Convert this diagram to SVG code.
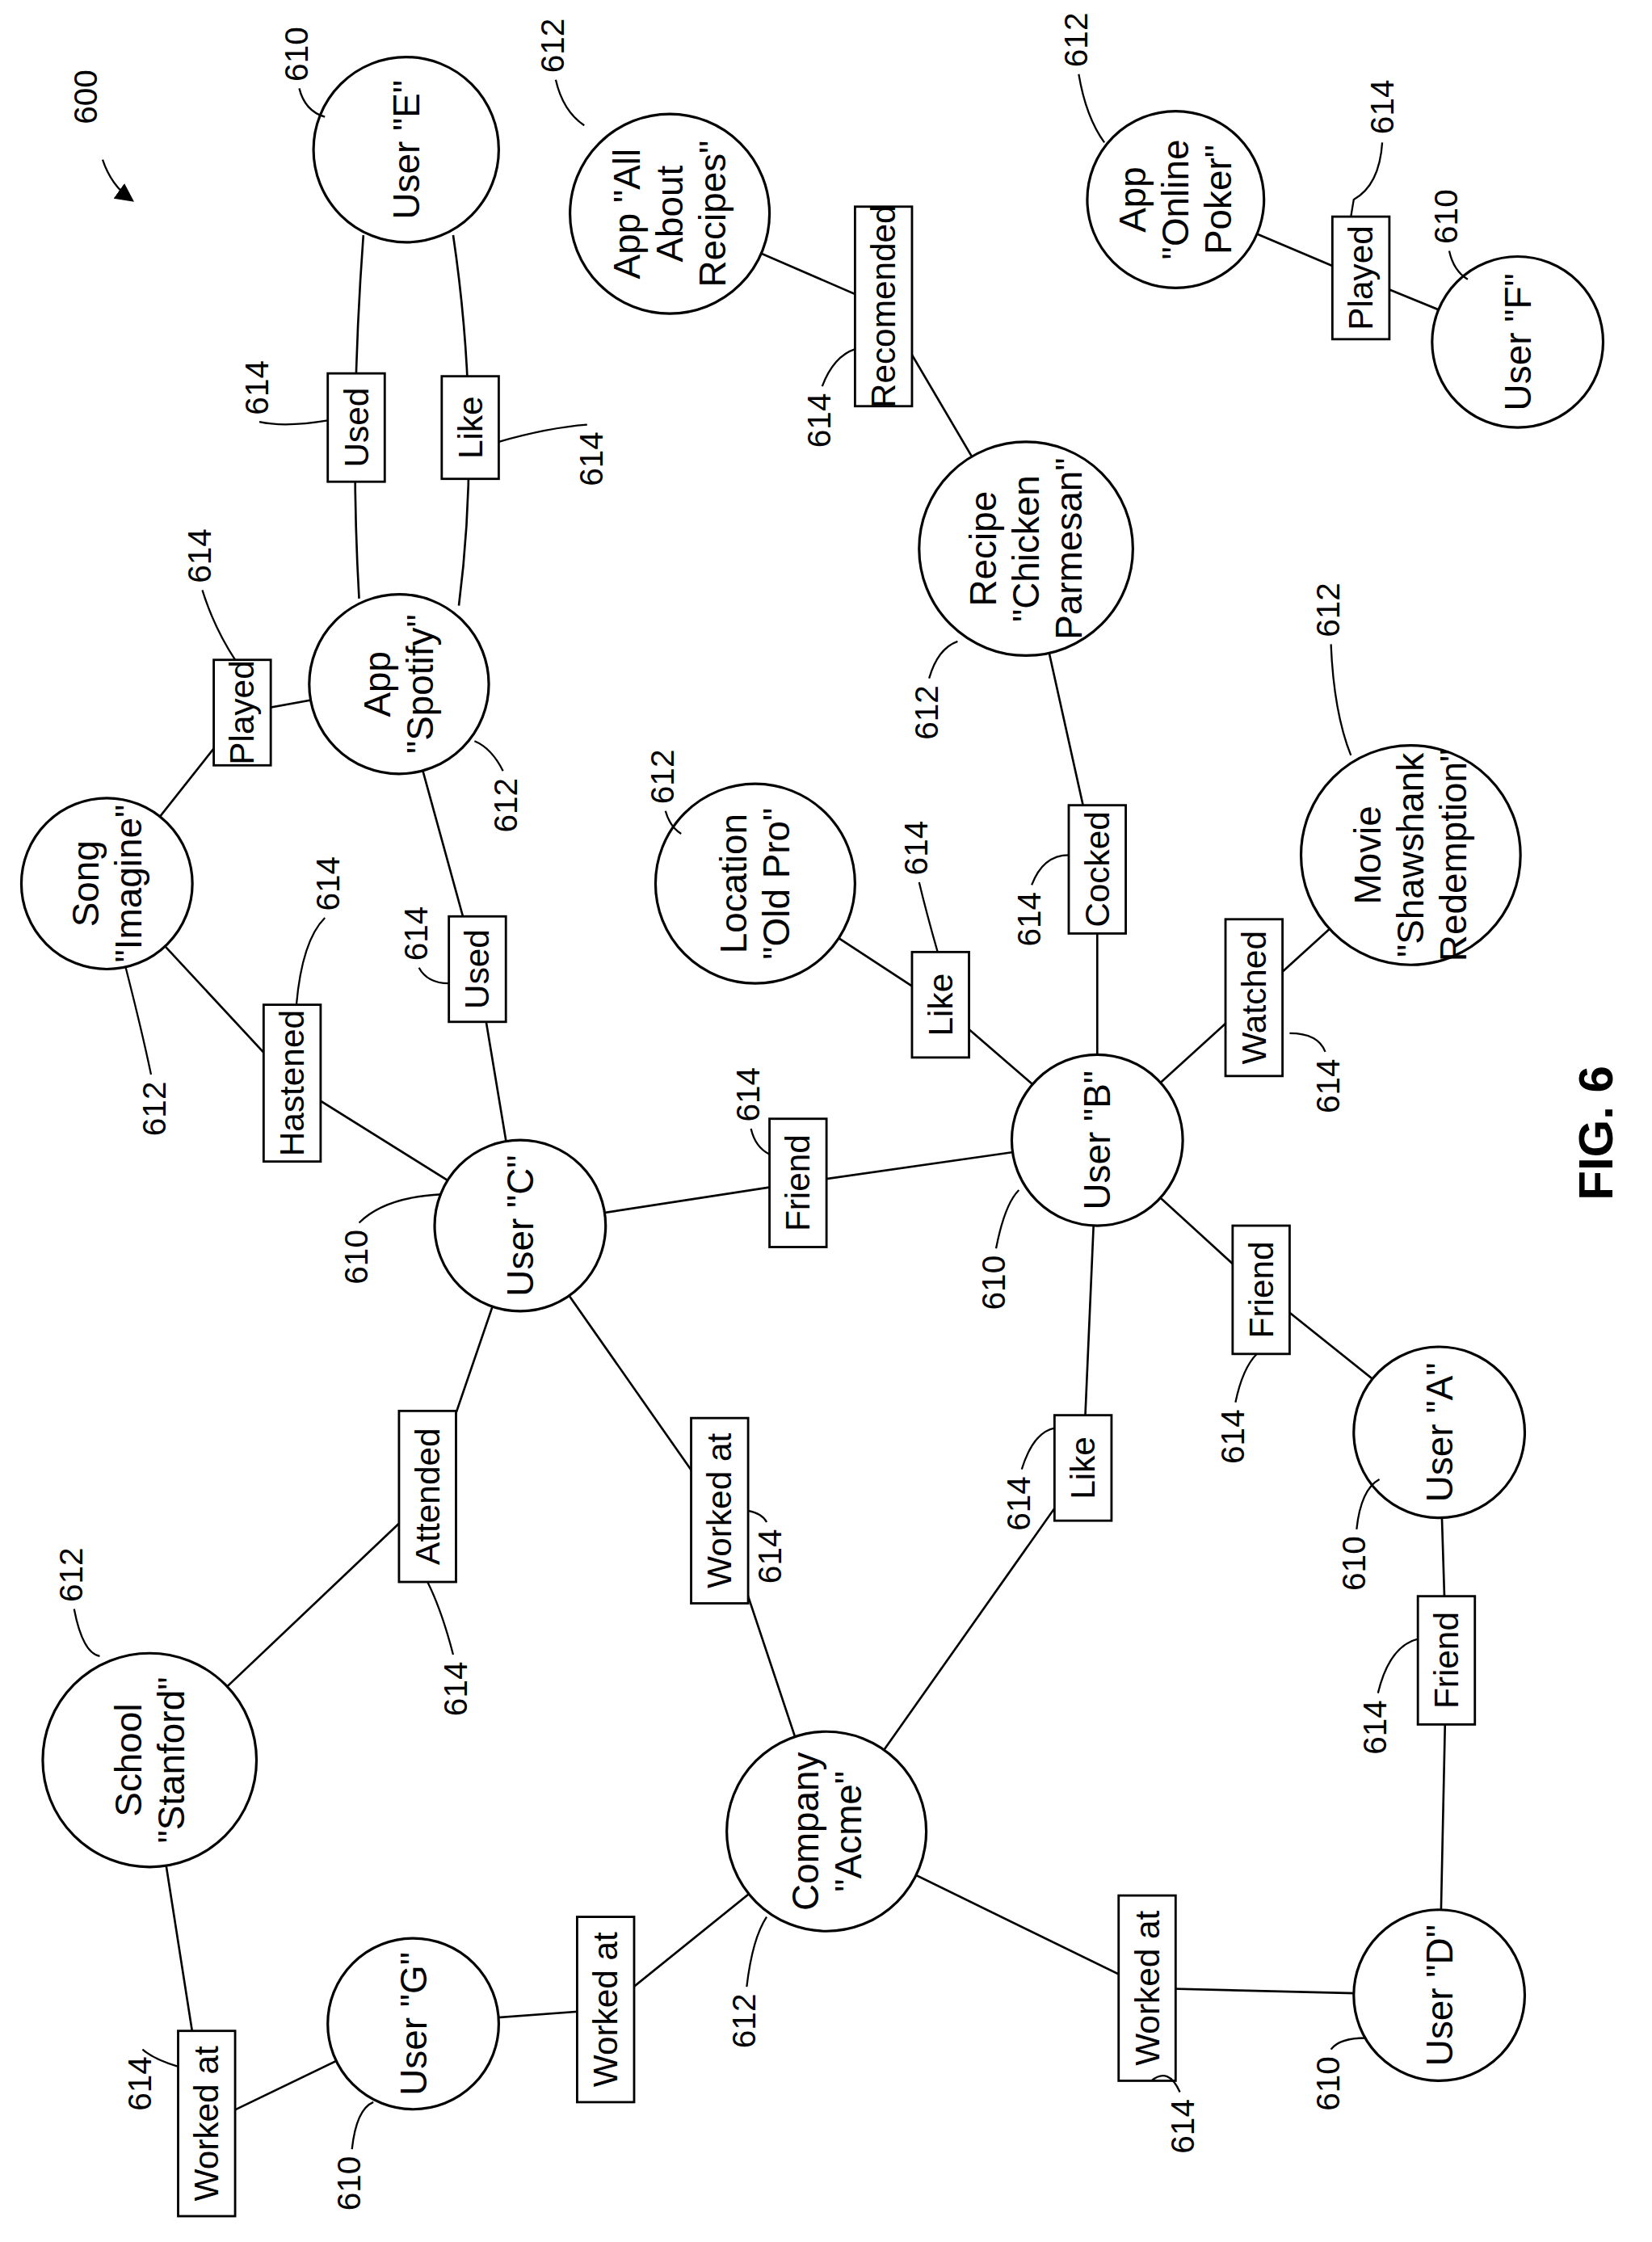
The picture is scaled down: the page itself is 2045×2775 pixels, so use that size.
<svg xmlns="http://www.w3.org/2000/svg" width="2045" height="2775" viewBox="0 0 2045 2775">
<style>
.n{fill:#fff;stroke:#000;stroke-width:1.8}
.e{fill:none;stroke:#000;stroke-width:1.5}
.b{fill:#fff;stroke:#000;stroke-width:1.6}
.l{fill:none;stroke:#000;stroke-width:1.3}
text{font-family:"Liberation Sans",Arial,sans-serif;text-anchor:middle;dominant-baseline:central;fill:#000}
.t{font-size:26px}
.lb{font-size:24px}
.c{font-size:23px}
</style>
<defs><marker id="ar" markerWidth="10" markerHeight="10" refX="8" refY="5" orient="auto"><path d="M0,0 L10,5 L0,10 z"/></marker></defs>
<rect width="2045" height="2775" fill="#fff"/>
<g transform="scale(1.764)">
<g id="connectors">
<path class="e" d="M255,165 Q245,300 252,420"/>
<path class="e" d="M318,165 Q338,300 322,425"/>
<polyline class="e" points="280,480 170,500 75,620"/>
<polyline class="e" points="75,620 205,760 365,860"/>
<polyline class="e" points="280,480 335,680 365,860"/>
<polyline class="e" points="470,150 620,215 720,385"/>
<polyline class="e" points="825,140 955,195 1065,240"/>
<polyline class="e" points="720,385 770,610 770,800"/>
<polyline class="e" points="530,620 660,705 770,800"/>
<polyline class="e" points="990,600 880,700 770,800"/>
<polyline class="e" points="365,860 560,830 770,800"/>
<polyline class="e" points="770,800 885,905 1010,1005"/>
<polyline class="e" points="1010,1005 1015,1165 1010,1400"/>
<polyline class="e" points="580,1285 760,1030 770,800"/>
<polyline class="e" points="365,860 505,1060 580,1285"/>
<polyline class="e" points="105,1235 300,1050 365,860"/>
<polyline class="e" points="580,1285 805,1395 1010,1400"/>
<polyline class="e" points="290,1420 425,1410 580,1285"/>
<polyline class="e" points="105,1235 145,1490 290,1420"/>
</g>
<g id="labels">
<g><rect class="b" x="230" y="262" width="40" height="76"/><text class="lb" transform="translate(250,300) rotate(-90)">Used</text></g>
<g><rect class="b" x="310" y="264" width="40" height="72"/><text class="lb" transform="translate(330,300) rotate(-90)">Like</text></g>
<g><rect class="b" x="150" y="463" width="40" height="74"/><text class="lb" transform="translate(170,500) rotate(-90)">Played</text></g>
<g><rect class="b" x="185" y="705" width="40" height="110"/><text class="lb" transform="translate(205,760) rotate(-90)">Hastened</text></g>
<g><rect class="b" x="315" y="643" width="40" height="74"/><text class="lb" transform="translate(335,680) rotate(-90)">Used</text></g>
<g><rect class="b" x="600" y="145" width="40" height="140"/><text class="lb" transform="translate(620,215) rotate(-90)">Recomended</text></g>
<g><rect class="b" x="935" y="152" width="40" height="86"/><text class="lb" transform="translate(955,195) rotate(-90)">Played</text></g>
<g><rect class="b" x="750" y="565" width="40" height="90"/><text class="lb" transform="translate(770,610) rotate(-90)">Cocked</text></g>
<g><rect class="b" x="640" y="668" width="40" height="74"/><text class="lb" transform="translate(660,705) rotate(-90)">Like</text></g>
<g><rect class="b" x="860" y="645" width="40" height="110"/><text class="lb" transform="translate(880,700) rotate(-90)">Watched</text></g>
<g><rect class="b" x="540" y="785" width="40" height="90"/><text class="lb" transform="translate(560,830) rotate(-90)">Friend</text></g>
<g><rect class="b" x="865" y="860" width="40" height="90"/><text class="lb" transform="translate(885,905) rotate(-90)">Friend</text></g>
<g><rect class="b" x="995" y="1120" width="40" height="90"/><text class="lb" transform="translate(1015,1165) rotate(-90)">Friend</text></g>
<g><rect class="b" x="740" y="993" width="40" height="74"/><text class="lb" transform="translate(760,1030) rotate(-90)">Like</text></g>
<g><rect class="b" x="485" y="995" width="40" height="130"/><text class="lb" transform="translate(505,1060) rotate(-90)">Worked at</text></g>
<g><rect class="b" x="280" y="990" width="40" height="120"/><text class="lb" transform="translate(300,1050) rotate(-90)">Attended</text></g>
<g><rect class="b" x="785" y="1330" width="40" height="130"/><text class="lb" transform="translate(805,1395) rotate(-90)">Worked at</text></g>
<g><rect class="b" x="405" y="1345" width="40" height="130"/><text class="lb" transform="translate(425,1410) rotate(-90)">Worked at</text></g>
<g><rect class="b" x="125" y="1425" width="40" height="130"/><text class="lb" transform="translate(145,1490) rotate(-90)">Worked at</text></g>
</g>
<g id="userE"><circle class="n" cx="285" cy="105" r="65"/><text class="t" transform="translate(285,105) rotate(-90)">User "E"</text></g>
<g id="appRecipes"><circle class="n" cx="470" cy="150" r="70"/><text class="t" transform="translate(470,150) rotate(-90)"><tspan x="0" y="-30">App "All</tspan><tspan x="0" y="0">About</tspan><tspan x="0" y="30">Recipes"</tspan></text></g>
<g id="appPoker"><circle class="n" cx="825" cy="140" r="62"/><text class="t" transform="translate(825,140) rotate(-90)"><tspan x="0" y="-30">App</tspan><tspan x="0" y="0">"Online</tspan><tspan x="0" y="30">Poker"</tspan></text></g>
<g id="userF"><circle class="n" cx="1065" cy="240" r="60"/><text class="t" transform="translate(1065,240) rotate(-90)">User "F"</text></g>
<g id="recipe"><circle class="n" cx="720" cy="385" r="75"/><text class="t" transform="translate(720,385) rotate(-90)"><tspan x="0" y="-30">Recipe</tspan><tspan x="0" y="0">"Chicken</tspan><tspan x="0" y="30">Parmesan"</tspan></text></g>
<g id="spotify"><circle class="n" cx="280" cy="480" r="63"/><text class="t" transform="translate(280,480) rotate(-90)"><tspan x="0" y="-15">App</tspan><tspan x="0" y="15">"Spotify"</tspan></text></g>
<g id="song"><circle class="n" cx="75" cy="620" r="60"/><text class="t" transform="translate(75,620) rotate(-90)"><tspan x="0" y="-15">Song</tspan><tspan x="0" y="15">"Imagine"</tspan></text></g>
<g id="location"><circle class="n" cx="530" cy="620" r="70"/><text class="t" transform="translate(530,620) rotate(-90)"><tspan x="0" y="-15">Location</tspan><tspan x="0" y="15">"Old Pro"</tspan></text></g>
<g id="movie"><circle class="n" cx="990" cy="600" r="77"/><text class="t" transform="translate(990,600) rotate(-90)"><tspan x="0" y="-30">Movie</tspan><tspan x="0" y="0">"Shawshank</tspan><tspan x="0" y="30">Redemption"</tspan></text></g>
<g id="userB"><circle class="n" cx="770" cy="800" r="60"/><text class="t" transform="translate(770,800) rotate(-90)">User "B"</text></g>
<g id="userC"><circle class="n" cx="365" cy="860" r="60"/><text class="t" transform="translate(365,860) rotate(-90)">User "C"</text></g>
<g id="userA"><circle class="n" cx="1010" cy="1005" r="60"/><text class="t" transform="translate(1010,1005) rotate(-90)">User "A"</text></g>
<g id="school"><circle class="n" cx="105" cy="1235" r="75"/><text class="t" transform="translate(105,1235) rotate(-90)"><tspan x="0" y="-15">School</tspan><tspan x="0" y="15">"Stanford"</tspan></text></g>
<g id="acme"><circle class="n" cx="580" cy="1285" r="70"/><text class="t" transform="translate(580,1285) rotate(-90)"><tspan x="0" y="-15">Company</tspan><tspan x="0" y="15">"Acme"</tspan></text></g>
<g id="userG"><circle class="n" cx="290" cy="1420" r="60"/><text class="t" transform="translate(290,1420) rotate(-90)">User "G"</text></g>
<g id="userD"><circle class="n" cx="1010" cy="1400" r="60"/><text class="t" transform="translate(1010,1400) rotate(-90)">User "D"</text></g>
<g id="callouts">
<text class="c" transform="translate(60,68) rotate(-90)">600</text>
<path class="l" d="M72,112 Q78,130 92,140" marker-end="url(#ar)"/>
<text class="c" transform="translate(208,38) rotate(-90)">610</text><path class="l" d="M210,62 Q214,78 228,82"/>
<text class="c" transform="translate(388,32) rotate(-90)">612</text><path class="l" d="M390,56 Q395,78 410,88"/>
<text class="c" transform="translate(755,28) rotate(-90)">612</text><path class="l" d="M757,52 Q762,82 775,100"/>
<text class="c" transform="translate(970,75) rotate(-90)">614</text><path class="l" d="M970,100 Q968,130 950,140 L948,152"/>
<text class="c" transform="translate(1015,152) rotate(-90)">610</text><path class="l" d="M1017,176 Q1020,190 1030,196"/>
<text class="c" transform="translate(180,272) rotate(-90)">614</text><path class="l" d="M182,296 Q200,300 230,295"/>
<text class="c" transform="translate(415,322) rotate(-90)">614</text><path class="l" d="M412,298 Q385,300 350,310"/>
<text class="c" transform="translate(575,295) rotate(-90)">614</text><path class="l" d="M577,271 Q585,250 600,245"/>
<text class="c" transform="translate(140,390) rotate(-90)">614</text><path class="l" d="M142,414 Q150,440 165,463"/>
<text class="c" transform="translate(355,565) rotate(-90)">612</text><path class="l" d="M353,541 Q345,525 333,520"/>
<text class="c" transform="translate(108,778) rotate(-90)">612</text><path class="l" d="M106,754 Q100,725 88,678"/>
<text class="c" transform="translate(230,620) rotate(-90)">614</text><path class="l" d="M228,644 Q212,660 208,705"/>
<text class="c" transform="translate(292,655) rotate(-90)">614</text><path class="l" d="M294,679 Q300,690 315,690"/>
<text class="c" transform="translate(465,545) rotate(-90)">612</text><path class="l" d="M467,569 Q470,580 478,585"/>
<text class="c" transform="translate(643,595) rotate(-90)">614</text><path class="l" d="M645,619 Q650,640 658,668"/>
<text class="c" transform="translate(650,500) rotate(-90)">612</text><path class="l" d="M652,476 Q658,455 672,450"/>
<text class="c" transform="translate(722,645) rotate(-90)">614</text><path class="l" d="M724,621 Q732,600 750,600"/>
<text class="c" transform="translate(932,428) rotate(-90)">612</text><path class="l" d="M934,452 Q936,500 948,530"/>
<text class="c" transform="translate(932,762) rotate(-90)">614</text><path class="l" d="M930,738 Q925,725 905,725"/>
<text class="c" transform="translate(525,768) rotate(-90)">614</text><path class="l" d="M527,792 Q530,805 540,810"/>
<text class="c" transform="translate(250,882) rotate(-90)">610</text><path class="l" d="M252,858 Q270,840 310,838"/>
<text class="c" transform="translate(697,900) rotate(-90)">610</text><path class="l" d="M699,876 Q705,845 715,835"/>
<text class="c" transform="translate(865,1008) rotate(-90)">614</text><path class="l" d="M867,984 Q872,960 882,950"/>
<text class="c" transform="translate(950,1097) rotate(-90)">610</text><path class="l" d="M952,1073 Q955,1045 968,1038"/>
<text class="c" transform="translate(715,1055) rotate(-90)">614</text><path class="l" d="M717,1031 Q725,1005 740,1002"/>
<text class="c" transform="translate(540,1092) rotate(-90)">614</text><path class="l" d="M538,1068 Q535,1062 525,1060"/>
<text class="c" transform="translate(320,1185) rotate(-90)">614</text><path class="l" d="M318,1161 Q310,1130 300,1110"/>
<text class="c" transform="translate(50,1105) rotate(-90)">612</text><path class="l" d="M52,1129 Q58,1160 70,1162"/>
<text class="c" transform="translate(522,1418) rotate(-90)">612</text><path class="l" d="M524,1394 Q528,1360 538,1345"/>
<text class="c" transform="translate(965,1212) rotate(-90)">614</text><path class="l" d="M967,1188 Q975,1155 995,1150"/>
<text class="c" transform="translate(932,1462) rotate(-90)">610</text><path class="l" d="M934,1438 Q940,1430 958,1430"/>
<text class="c" transform="translate(830,1492) rotate(-90)">614</text><path class="l" d="M828,1468 Q820,1450 808,1460"/>
<text class="c" transform="translate(245,1532) rotate(-90)">610</text><path class="l" d="M247,1508 Q250,1480 262,1475"/>
<text class="c" transform="translate(98,1462) rotate(-90)">614</text><path class="l" d="M100,1438 Q108,1445 125,1450"/>
<text transform="translate(1120,795) rotate(-90)" style="font-size:34px;font-weight:bold">FIG. 6</text>
</g>
</g>
</svg>
